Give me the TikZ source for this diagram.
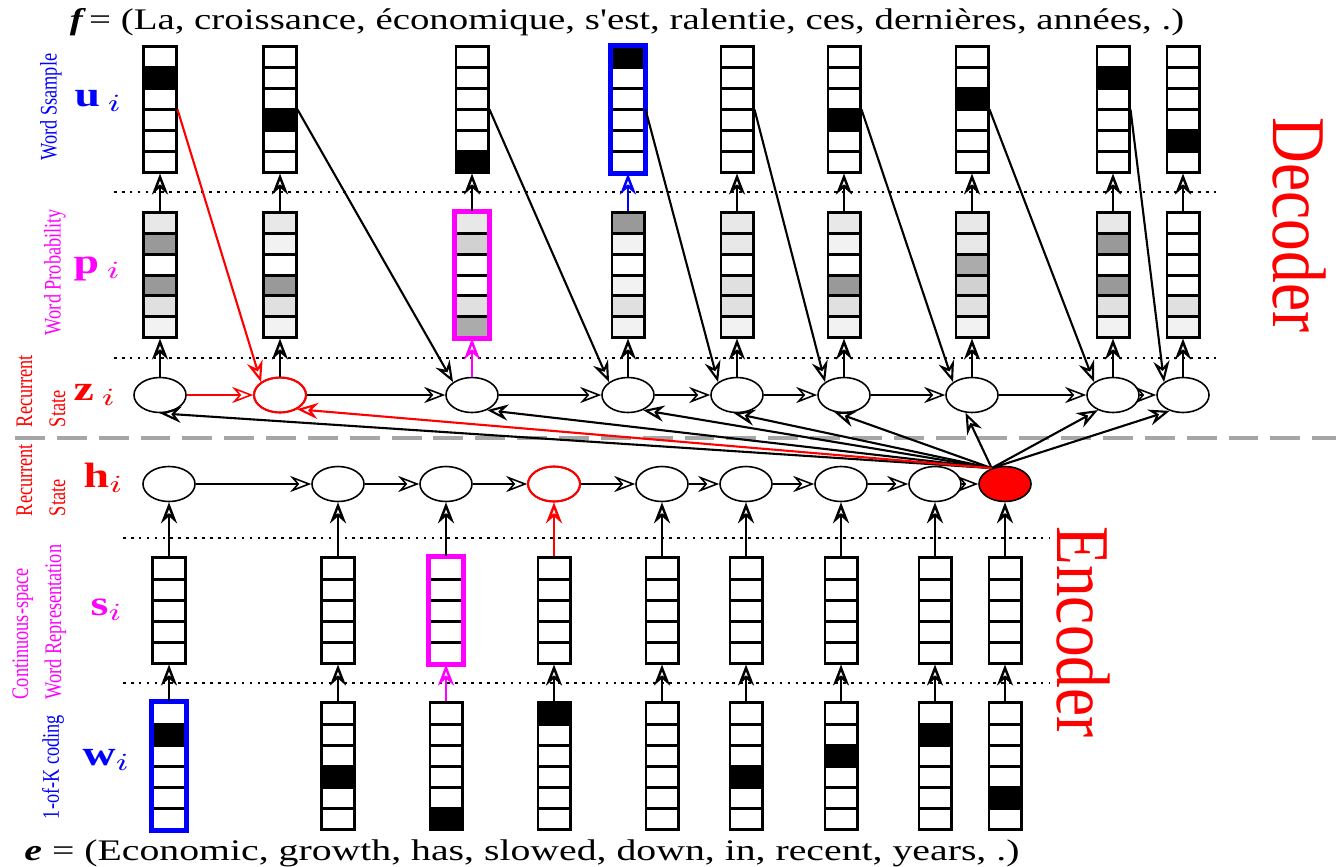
\documentclass[tikz,border=0pt]{standalone}
\usepackage{fontspec}
\setmainfont{Liberation Serif}
\usetikzlibrary{arrows.meta,shapes.geometric}

\definecolor{mag}{RGB}{255,0,255}
\tikzset{
  flow/.style={-{Stealth[open,length=6pt,width=4.6pt,inset=2pt]},line width=0.7pt},
  chain/.style={flow,line width=0.45pt},
  cellbox/.style={draw,line width=0.85pt,minimum width=0.32cm,inner sep=0pt},
  ubox/.style={cellbox,minimum height=1.25cm},
  pbox/.style={cellbox,minimum height=1.24cm},
  sbox/.style={cellbox,minimum height=1.05cm},
  wbox/.style={cellbox,minimum height=1.26cm},
  state/.style={ellipse,draw,line width=0.45pt,minimum width=0.52cm,minimum height=0.35cm,inner sep=0pt},
  sep/.style={line width=0.75pt,dash pattern=on 0.75pt off 1.5pt},
  tag/.style={font=\fontsize{5.2}{7.2}\selectfont,rotate=90,align=left},
  sym/.style={font=\fontsize{10}{12}\selectfont,anchor=base west,inner sep=0pt},
  side/.style={font=\fontsize{18}{20}\selectfont,text=red,rotate=-90}
}

\begin{document}
\begin{tikzpicture}[x=0.01cm,y=-0.01cm]
\useasboundingbox (0,0) rectangle (1336,866);

% sentences
\node[font=\fontsize{8.5}{10}\selectfont] (fr) at (627,22) {\scalebox{1.3}[1]{{\bfseries\itshape f}\,= (La, croissance, économique, s\textquotesingle est, ralentie, ces, dernières, années, .)}};
\node[font=\fontsize{8.5}{10}\selectfont] (en) at (522,853) {\scalebox{1.33}[1]{{\bfseries\itshape e} = (Economic, growth, has, slowed, down, in, recent, years, .)}};

% separators
\draw[gray!70,line width=0.9pt,dash pattern=on 8.5pt off 3.4pt] (15,438) -- (1336,438);
\draw[sep] (114,192) -- (1217,192);
\draw[sep] (114,358) -- (1217,358);
\draw[sep] (123,538) -- (1050,538);
\draw[sep] (123,683) -- (1050,683);

% decoder: word samples
\foreach \x/\k [count=\i] in {160/2,280/4,472/6,628/1,737/0,844/4,972/3,1113/2,1183/5} {
  \ifnum\k>0 \fill (\x-16,26.17+\k*20.83) rectangle ++(32,20.83); \fi
  \node[ubox] (u\i) at (\x,109.5) {};
  \foreach \j in {1,...,5} \draw[line width=0.85pt] (\x-16,47+\j*20.83) -- ++(32,0);
}
\draw[blue,line width=1.3pt] (u4.north west) rectangle (u4.south east);

% decoder: word probabilities
\foreach \x/\sh [count=\i] in {160/{9,40,0,40,12,5},280/{9,5,0,40,12,5},472/{9,18,0,0,12,33},
    628/{40,5,0,5,12,5},737/{9,9,0,12,12,5},844/{9,5,0,40,12,5},972/{9,9,33,18,12,5},
    1113/{9,40,0,40,12,5},1183/{0,0,0,0,12,5}} {
  \foreach \g [count=\j] in \sh \fill[black!\g] (\x-16,192.33+\j*20.67) rectangle ++(32,20.67);
  \node[pbox] (p\i) at (\x,275) {};
  \foreach \j in {1,...,5} \draw[line width=0.85pt] (\x-16,213+\j*20.67) -- ++(32,0);
}
\draw[mag,line width=1.5pt] (p3.north west) rectangle (p3.south east);

% decoder: recurrent states
\foreach \x [count=\i] in {160,280,472,628,737,844,972,1113,1183}
  \node[state] (z\i) at (\x,395) {};
\draw[red,line width=0.6pt] (z2) ellipse [x radius=26,y radius=17.5];

% encoder: 1-of-K words
\foreach \x/\k [count=\i] in {169/2,338/4,446/6,554/1,662/0,746/4,841/3,935/2,1005/5} {
  \ifnum\k>0 \fill (\x-16,682+\k*21) rectangle ++(32,21); \fi
  \node[wbox] (w\i) at (\x,766) {};
  \foreach \j in {1,...,5} \draw[line width=0.85pt] (\x-16,703+\j*21) -- ++(32,0);
}
\draw[blue,line width=1.3pt] (w1.north west) rectangle (w1.south east);

% encoder: continuous representations
\foreach \x [count=\i] in {169,338,446,554,662,746,841,935,1005} {
  \node[sbox] (s\i) at (\x,610.5) {};
  \foreach \j in {1,...,4} \draw[line width=0.85pt] (\x-16,558+\j*21) -- ++(32,0);
}
\draw[mag,line width=1.5pt] (s3.north west) rectangle (s3.south east);

% encoder: recurrent states
\foreach \x [count=\i] in {169,338,446,554,662,746,841,935}
  \node[state] (h\i) at (\x,484) {};
\node[state,fill=red] (h9) at (1005,484) {};
\draw[red,line width=0.6pt] (h4) ellipse [x radius=26,y radius=17.5];

% vertical arrows
\foreach \i/\c in {1/black,2/black,3/mag,4/black,5/black,6/black,7/black,8/black,9/black}
  \draw[flow,\c] (z\i) -- (p\i);
\foreach \i/\c in {1/black,2/black,3/black,4/blue,5/black,6/black,7/black,8/black,9/black}
  \draw[flow,\c] (p\i) -- (u\i);
\foreach \i/\c in {1/black,2/black,3/mag,4/black,5/black,6/black,7/black,8/black,9/black}
  \draw[flow,\c] (w\i) -- (s\i);
\foreach \i/\c in {1/black,2/black,3/black,4/red,5/black,6/black,7/black,8/black,9/black}
  \draw[flow,\c] (s\i) -- (h\i);

% recurrences
\draw[chain,red] (z1) -- (z2);
\foreach \a/\b in {2/3,3/4,4/5,5/6,6/7,7/8,8/9}
  \draw[chain] (z\a) -- (z\b);
\foreach \a/\b in {1/2,2/3,3/4,4/5,5/6,6/7,7/8,8/9}
  \draw[chain] (h\a) -- (h\b);

% sampled word fed back
\draw[flow,red,line width=0.6pt] (u1.east) -- (z2.north west);
\foreach \a/\b in {2/3,3/4,4/5,5/6,6/7,7/8,8/9}
  \draw[flow,line width=0.6pt] (u\a.east) -- (z\b.north west);

% context to every decoder state
\foreach \i/\t in {1/270,3/-45,4/-45,5/-100,6/-120,7/-110,8/-135,9/-130}
  \draw[flow,line width=0.6pt] (h9.130) -- (z\i.\t);
\draw[flow,red,line width=0.6pt] (h9.130) -- (z2.-40);

% row labels
\node[tag,text=blue] (lu) at (51,107) {\scalebox{1}[1.3]{Word Ssample}};
\node[tag,text=mag] (lp) at (55,272) {\scalebox{1}[1.3]{Word Probability}};
\node[tag,text=red] (lz) at (42,391) {\scalebox{1}[1.3]{\begin{tabular}{@{}l@{}}Recurrent\\State\end{tabular}}};
\node[tag,text=red] (lh) at (42,480) {\scalebox{1}[1.3]{\begin{tabular}{@{}l@{}}Recurrent\\State\end{tabular}}};
\node[tag,text=mag] (ls) at (38,622) {\scalebox{1}[1.3]{\begin{tabular}{@{}l@{}}Continuous-space\\Word Representation\end{tabular}}};
\node[tag,text=blue] (lw) at (53,767) {\scalebox{1}[1.3]{1-of-K coding}};

\node[sym,text=blue] (su) at (74,106) {\scalebox{1.3}[1]{$\mathbf{u}\,_i$}};
\node[sym,text=mag] (sp) at (73,273) {\scalebox{1.3}[1]{$\mathbf{p}\,_i$}};
\node[sym,text=red] (sz) at (73,400) {\scalebox{1.3}[1]{$\mathbf{z}\,_i$}};
\node[sym,text=red] (sh) at (83,487) {\scalebox{1.3}[1]{$\mathbf{h}_i$}};
\node[sym,text=mag] (ss) at (90,615) {\scalebox{1.3}[1]{$\mathbf{s}_i$}};
\node[sym,text=blue] (sw) at (82,765) {\scalebox{1.3}[1]{$\mathbf{w}_i$}};

\node[side] (dec) at (1299,225) {\scalebox{1}[1.2]{Decoder}};
\node[side] (enc) at (1083,632) {\scalebox{1}[1.2]{Encoder}};
\end{tikzpicture}
\end{document}
